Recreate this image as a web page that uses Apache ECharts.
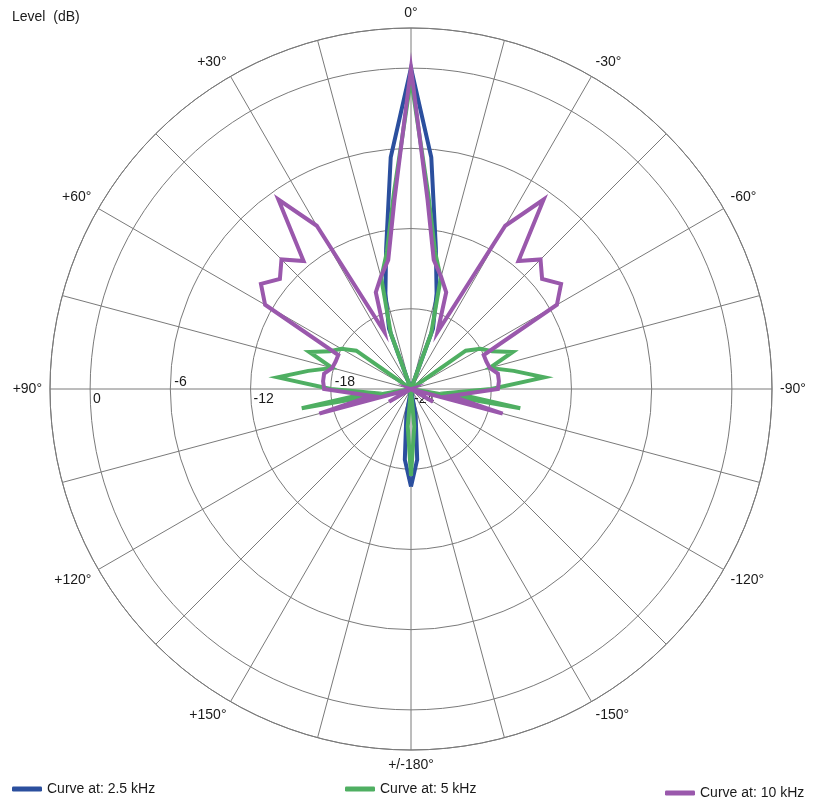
<!DOCTYPE html>
<html>
<head>
<meta charset="utf-8">
<title>Polar pattern</title>
<script src="https://cdn.jsdelivr.net/npm/echarts@6/dist/echarts.min.js"></script>
<style>
  html, body { margin: 0; padding: 0; background: #fff; }
  #chart { width: 820px; height: 803px; }
</style>
</head>
<body>
<div id="chart"></div>
<script>
// angles in degrees, + is to the left of 0°, - to the right
const angles = [
  -180, -175, -170, -165, -160, -155, -150, -145, -140, -135, -130, -125,
  -120, -115, -110, -105, -100, -95, -90, -85, -80, -75, -70, -65,
  -60, -55, -50, -45, -40, -35, -30, -25, -20, -15, -10, -5,
  0, 5, 10, 15, 20, 25, 30, 35, 40, 45, 50, 55,
  60, 65, 70, 75, 80, 85, 90, 95, 100, 105, 110, 115,
  120, 125, 130, 135, 140, 145, 150, 155, 160, 165, 170, 175,
  180
];

// level in dB, -24 is the centre of the plot
const level2k5 = [
  -16.7, -18.7, -22, -24, -24, -24, -24, -24, -24, -24, -24, -24,
  -24, -24, -24, -24, -24, -24, -24, -24, -24, -24, -24, -24,
  -24, -24, -24, -24, -24, -24, -24, -24, -19.2, -16.6, -13.3, -6.6,
  0, -6.6, -13.3, -16.6, -19.2, -24, -24, -24, -24, -24, -24, -24,
  -24, -24, -24, -24, -24, -24, -24, -24, -24, -24, -24, -24,
  -24, -24, -24, -24, -24, -24, -24, -24, -24, -24, -22, -18.7,
  -16.7
];

const level5k = [
  -17.5, -21.2, -24, -24, -24, -24, -24, -24, -24, -24, -24, -24,
  -24, -24, -24, -24, -15.7, -20.9, -18.0, -14.0, -16.2, -17.9, -15.9, -17.3,
  -18.0, -19.0, -24, -24, -24, -24, -24, -24, -19.6, -15.4, -13.6, -9.3,
  -0.8, -9.3, -13.6, -15.4, -19.6, -24, -24, -24, -24, -24, -24, -19.0,
  -18.0, -17.3, -15.9, -17.9, -16.2, -14.0, -18.0, -20.9, -15.7, -24, -24, -24,
  -24, -24, -24, -24, -24, -24, -24, -24, -24, -24, -24, -21.2,
  -17.5
];

const level10k = [
  -24, -24, -24, -24, -24, -24, -24, -24, -24, -24, -24, -24,
  -22.1, -24, -24, -16.9, -21.0, -19.9, -17.5, -17.4, -17.4, -17.9, -18.0, -18.0,
  -11.4, -10.3, -11.2, -10.3, -11.5, -6.7, -9.9, -19.3, -16.3, -15.3, -14.2, -9.8,
  0, -9.8, -14.2, -15.3, -16.3, -19.3, -9.9, -6.7, -11.5, -10.3, -11.2, -10.3,
  -11.4, -18.0, -18.0, -17.9, -17.4, -17.4, -17.5, -19.9, -21.0, -16.9, -24, -24,
  -22.1, -24, -24, -24, -24, -24, -24, -24, -24, -24, -24, -24,
  -24
];

const seriesNames = ['Curve at: 2.5 kHz', 'Curve at: 5 kHz', 'Curve at: 10 kHz'];
const seriesColors = ['#2b4f9e', '#4faf62', '#9a58ac'];
const seriesLevels = [level2k5, level5k, level10k];

const font = 'Liberation Sans';
const gridColor = '#7a7a7a';

function angleLabel(v) {
  if (v % 30 !== 0) return '';
  if (v === 180) return '';
  if (v === -180) return '+/-180°';
  if (v === 0) return '0°';
  return (v > 0 ? '+' : '') + v + '°';
}

function levelLabel(v) {
  if (v > 0) return '';
  // labels sit alternately below and above the 90° line
  return (v % 12 === 0 ? '{lo|' : '{hi|') + v + '}';
}

const chart = echarts.init(document.getElementById('chart'));

const option = {
  backgroundColor: '#fff',
  animation: false,
  title: {
    text: 'Level  (dB)',
    left: 7,
    top: 5,
    textStyle: { fontFamily: font, fontSize: 14, fontWeight: 'normal', color: '#1a1a1a' }
  },
  legend: [
    { data: [seriesNames[0]], left: 7, top: 777 },
    { data: [seriesNames[1]], left: 340, top: 777 },
    { data: [seriesNames[2]], left: 660, top: 781 }
  ].map(l => Object.assign(l, {
    icon: 'roundRect',
    itemWidth: 30,
    itemHeight: 5,
    textStyle: { fontFamily: font, fontSize: 14, color: '#1a1a1a' }
  })),
  polar: [
    { center: [411, 389], radius: 361 },
    { center: [411, 389], radius: 361 }
  ],
  angleAxis: [
    {
      polarIndex: 0,
      type: 'value',
      min: -180,
      max: 180,
      interval: 15,
      startAngle: 270,
      clockwise: false,
      axisLine: { lineStyle: { color: gridColor, width: 1 } },
      axisTick: { show: false },
      splitLine: { lineStyle: { color: gridColor, width: 1 } },
      axisLabel: { formatter: angleLabel, fontFamily: font, fontSize: 14, color: '#1a1a1a', margin: 8 }
    },
    {
      // only used to lay the level labels along the +90° line
      polarIndex: 1,
      type: 'value',
      min: 0,
      max: 360,
      startAngle: 180,
      axisLine: { show: false },
      axisTick: { show: false },
      axisLabel: { show: false },
      splitLine: { show: false }
    }
  ],
  radiusAxis: [
    {
      polarIndex: 0,
      type: 'value',
      min: -24,
      max: 3,
      interval: 6,
      axisLine: { show: false },
      axisTick: { show: false },
      axisLabel: { show: false },
      splitLine: { lineStyle: { color: gridColor, width: 1 } }
    },
    {
      polarIndex: 1,
      type: 'value',
      min: -24,
      max: 3,
      interval: 6,
      axisLine: { show: false },
      axisTick: { show: false },
      splitLine: { show: false },
      axisLabel: {
        formatter: levelLabel,
        margin: 0,
        align: 'left',
        verticalAlign: 'middle',
        rich: {
          lo: { fontFamily: font, fontSize: 14, color: '#1a1a1a', padding: [20, 0, 0, 3] },
          hi: { fontFamily: font, fontSize: 14, color: '#1a1a1a', padding: [0, 0, 14, 4] }
        }
      }
    }
  ],
  series: seriesNames.map((name, i) => ({
    name: name,
    type: 'line',
    coordinateSystem: 'polar',
    polarIndex: 0,
    symbol: 'none',
    color: seriesColors[i],
    lineStyle: { width: 4, color: seriesColors[i], join: 'miter' },
    data: angles.map((a, k) => [seriesLevels[i][k], a])
  }))
};

chart.setOption(option);
</script>
</body>
</html>
